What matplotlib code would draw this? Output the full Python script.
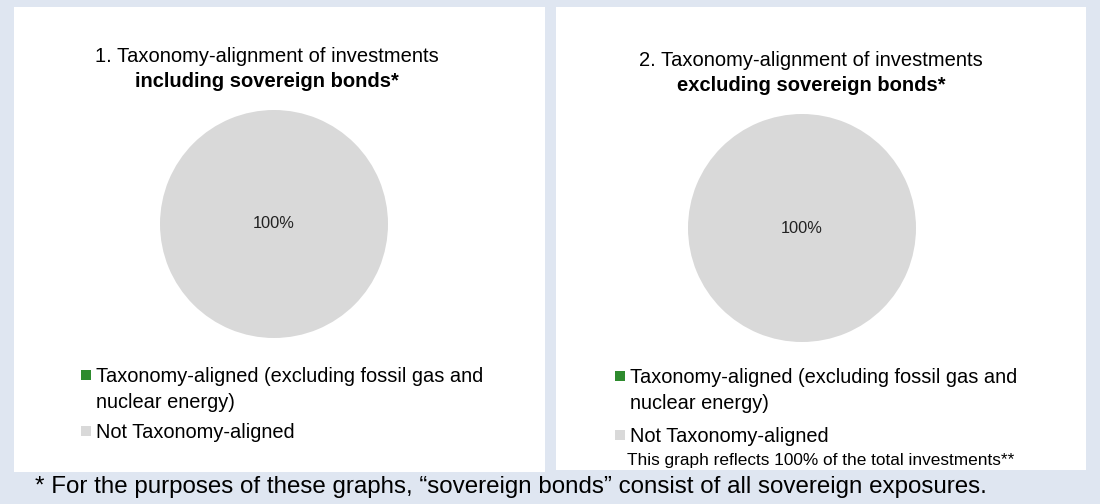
import matplotlib.pyplot as plt
from matplotlib.patches import Rectangle

plt.rcParams['font.family'] = ['Liberation Sans', 'DejaVu Sans']

# chart data
categories = ['Taxonomy-aligned (excluding fossil gas and\nnuclear energy)', 'Not Taxonomy-aligned']
incl_sovereign = [0, 100]
excl_sovereign = [0, 100]
colors = ['#2e8b2e', '#d9d9d9']

W, H = 1100, 504
fig = plt.figure(figsize=(W / 100, H / 100), dpi=100)
fig.patch.set_facecolor('#dfe6f1')


def fx(x):
    return x / W


def fy(y):
    return 1 - y / H


def box(x0, y0, w, h, color, z):
    fig.patches.append(Rectangle((fx(x0), fy(y0 + h)), w / W, h / H,
                                 transform=fig.transFigure, facecolor=color,
                                 edgecolor='none', zorder=z))


# white panels behind everything
box(14, 7, 531, 465, 'white', -10)
box(556, 7, 530, 463, 'white', -10)


def pct(v):
    return '%d%%' % round(v) if v > 0 else ''


def draw_panel(values, cx, cy, r, tx, ty, title_a, title_b, lx, rows, note=None):
    ax = fig.add_axes([fx(cx - r), fy(cy + r), 2 * r / W, 2 * r / H])
    ax.pie(values, colors=colors, startangle=90, counterclock=False,
           autopct=pct, pctdistance=0.0,
           textprops={'fontsize': 11.8, 'color': '#222222'})
    ax.set_xlim(-1, 1)
    ax.set_ylim(-1, 1)
    ax.set_aspect('equal')
    fig.text(fx(tx), fy(ty), title_a, ha='center', va='baseline', fontsize=14.5)
    fig.text(fx(tx), fy(ty + 25), title_b, ha='center', va='baseline',
             fontsize=14.5, fontweight='bold')
    # legend: square next to the first line of each label (rows = first baselines)
    for label, c, yb in zip(categories, colors, rows):
        box(lx, yb - 12, 10, 10, c, 5)
        fig.text(fx(lx + 15), fy(yb - 15), label, ha='left', va='top',
                 fontsize=14.4, linespacing=1.49)
    if note:
        fig.text(fx(627), fy(461), note, ha='left', va='center', fontsize=12.4)


draw_panel(incl_sovereign, 274, 224, 114, 267, 62,
           '1. Taxonomy-alignment of investments', 'including sovereign bonds*',
           81, [382, 438])
draw_panel(excl_sovereign, 802, 228, 114, 811, 66,
           '2. Taxonomy-alignment of investments', 'excluding sovereign bonds*',
           615, [383, 442],
           note='This graph reflects 100% of the total investments**')

fig.text(fx(35), fy(487), '* For the purposes of these graphs, \u201csovereign bonds\u201d consist of all sovereign exposures.',
         ha='left', va='center', fontsize=17.4)

fig.savefig('out.png', dpi=100, facecolor=fig.get_facecolor())
